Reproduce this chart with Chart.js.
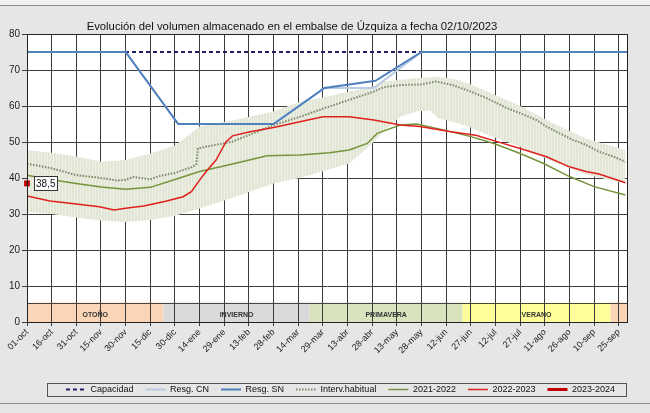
<!DOCTYPE html>
<html lang="es">
<head>
<meta charset="utf-8">
<title>Evolución del volumen almacenado - Úzquiza</title>
<script src="https://cdn.jsdelivr.net/npm/chart.js@4.4.1/dist/chart.umd.min.js"></script>
<style>
  html, body { margin: 0; padding: 0; background: #e6e6e6; }
  #contenedor { width: 650px; height: 413px; }
</style>
</head>
<body>
<div id="contenedor"><canvas id="grafico" width="650" height="413"></canvas></div>
<script>
// Datos (eje x en días desde el 1 de octubre)
const etiquetasFecha = ['01-oct','16-oct','31-oct','15-nov','30-nov','15-dic','30-dic','14-ene','29-ene','13-feb','28-feb','14-mar','29-mar','13-abr','28-abr','13-may','28-may','12-jun','27-jun','12-jul','27-jul','11-ago','26-ago','10-sep','25-sep'];

const diasCapacidad = [0, 365];
const valCapacidad = [75, 75];

const diasResgSN = [0, 60, 92, 150, 181, 212, 240, 365];
const valResgSN = [75, 75, 55, 55, 65, 67, 75, 75];
const diasResgCN = [0, 60, 92, 150, 181, 211, 240, 365];
const valResgCN = [75, 75, 55, 55, 65, 65, 75, 75];

const diasMedia = [0, 15, 30, 45, 55, 60, 65, 75, 80, 90, 100, 103, 104, 110, 125, 150, 166, 181, 196, 211, 217, 227, 240, 249, 259, 270, 280, 292, 300, 310, 316, 324, 332, 340, 348, 357, 364];
const valMedia = [44, 42.7, 40.8, 40, 39.3, 39.5, 40.3, 39.6, 40.5, 41.4, 43, 43.8, 48.2, 48.8, 50.1, 54.7, 57, 59.4, 61.7, 64, 65.2, 65.8, 66, 66.8, 65.8, 64, 62.1, 59.4, 58, 56.1, 54.3, 52.4, 50.6, 49.2, 47.3, 45.9, 44.5];

const diasBanda = [0, 15, 30, 45, 60, 75, 90, 105, 125, 150, 166, 181, 196, 211, 217, 227, 237, 245, 250, 260, 270, 280, 300, 320, 340, 364];
const bandaSup = [47.8, 47, 46, 44.5, 45, 46.8, 49, 54.3, 56, 58.5, 61.2, 62.5, 64, 65.5, 66.8, 67.3, 67.7, 68, 68.1, 67.5, 66, 64, 60, 55.2, 51, 47.8];
const bandaInf = [30.5, 30, 29, 28.2, 27.8, 28.3, 29.5, 31.5, 34.5, 38.5, 40, 42, 44, 50, 53, 57, 58.5, 58.8, 56.6, 55.5, 54, 52, 48.7, 44.5, 41, 38.5];

const dias2122 = [0, 15, 30, 45, 60, 75, 90, 105, 125, 146, 166, 184, 196, 207, 213, 227, 237, 254, 270, 284, 300, 314, 330, 345, 364];
const val2122 = [40.8, 39.5, 38.5, 37.5, 36.9, 37.4, 39.6, 41.8, 43.9, 46.2, 46.4, 47, 47.8, 49.6, 52.4, 54.7, 55, 53.3, 51.5, 49.6, 46.8, 44.1, 40.4, 37.6, 35.3];

const dias2223 = [0, 14, 30, 44, 53, 60, 71, 85, 95, 100, 105, 109, 115, 121, 125, 135, 150, 166, 180, 196, 211, 227, 239, 257, 273, 286, 300, 316, 330, 340, 348, 364];
const val2223 = [35, 33.6, 32.8, 32, 31.1, 31.6, 32.2, 33.6, 34.8, 36.2, 39.4, 41.8, 45, 50, 51.7, 52.8, 54, 55.6, 57, 57, 56.1, 54.7, 54.3, 52.9, 51.9, 50.1, 48.2, 45.9, 43.1, 41.8, 41.1, 38.7];

const dias2324 = [0];
const val2324 = [38.5];

// Estaciones (franja inferior)
const nombresEstacion = ['OTOÑO', 'INVIERNO', 'PRIMAVERA', 'VERANO', ''];
const inicioEstacion = [0, 83, 172, 265, 355];
const finEstacion = [83, 172, 265, 355, 365];
const coloresEstacion = ['#fbd5b5', '#d9d9d9', '#d7e4bd', '#ffff99', '#fbd5b5'];
const alturaEstacion = 5.4;

const tituloGrafico = 'Evolución del volumen almacenado en el embalse de Úzquiza a fecha 02/10/2023';

// Convierte dos arrays en puntos {x, y}
const puntos = (dias, vals) => dias.map((d, i) => ({ x: d, y: vals[i] }));

// Trama rayada suave para el intervalo habitual
const trama = document.createElement('canvas');
trama.width = 3; trama.height = 1;
const tctx = trama.getContext('2d');
tctx.fillStyle = '#eef0e8'; tctx.fillRect(0, 0, 3, 1);
tctx.fillStyle = '#e1e6d5'; tctx.fillRect(0, 0, 2, 1);
const patronBanda = document.getElementById('grafico').getContext('2d').createPattern(trama, 'repeat');

const fuente = "'Liberation Sans', Arial, sans-serif";

// Fondo, área blanca y franjas de estaciones
const pluginFondo = {
    id: 'fondo',
    beforeDraw(chart) {
        const { ctx, chartArea: a, scales: { x, y } } = chart;
        ctx.save();
        ctx.fillStyle = '#f0f0f0';
        ctx.fillRect(0, 0, chart.width, 5);
        ctx.fillStyle = '#e6e6e6';
        ctx.fillRect(0, 5, chart.width, chart.height - 5);
        ctx.strokeStyle = '#8c8c8c';
        ctx.lineWidth = 1;
        ctx.beginPath();
        ctx.moveTo(0, 5.5); ctx.lineTo(chart.width, 5.5);
        ctx.moveTo(0, 403.5); ctx.lineTo(chart.width, 403.5);
        ctx.stroke();
        ctx.fillStyle = '#ffffff';
        ctx.fillRect(a.left, a.top, a.right - a.left, a.bottom - a.top);

        const yTop = y.getPixelForValue(alturaEstacion);
        const yBot = y.getPixelForValue(0);
        nombresEstacion.forEach((nombre, i) => {
            const x1 = x.getPixelForValue(inicioEstacion[i]);
            const x2 = x.getPixelForValue(finEstacion[i]);
            ctx.fillStyle = coloresEstacion[i];
            ctx.fillRect(x1, yTop, x2 - x1, yBot - yTop);
            if (nombre) {
                ctx.fillStyle = '#333';
                ctx.font = `bold 7px ${fuente}`;
                ctx.textAlign = 'center';
                ctx.textBaseline = 'middle';
                ctx.fillText(nombre, (x1 + x2) / 2, (yTop + yBot) / 2 + 3);
            }
        });
        ctx.strokeStyle = '#444';
        ctx.beginPath();
        ctx.moveTo(a.left, Math.round(yTop) + 0.5);
        ctx.lineTo(a.right, Math.round(yTop) + 0.5);
        ctx.stroke();
        ctx.restore();
    }
};

// Borde del área, título, caja de leyenda y etiqueta del último valor
const pluginExtras = {
    id: 'extras',
    afterDraw(chart) {
        const { ctx, chartArea: a } = chart;
        ctx.save();
        ctx.strokeStyle = '#222';
        ctx.lineWidth = 1;
        ctx.strokeRect(Math.round(a.left) + 0.5, Math.round(a.top) + 0.5, Math.round(a.right - a.left), Math.round(a.bottom - a.top));

        // Título
        ctx.fillStyle = '#111';
        ctx.font = `11.3px ${fuente}`;
        ctx.textAlign = 'center';
        ctx.textBaseline = 'middle';
        ctx.fillText(tituloGrafico, (a.left + a.right) / 2 - 35, 27);

        // Caja de la leyenda
        const leg = chart.legend;
        if (leg && leg.legendHitBoxes.length) {
            const hb = leg.legendHitBoxes[0];
            const cy = hb.top + hb.height / 2;
            ctx.strokeStyle = '#555';
            ctx.strokeRect(a.left + 20.5, Math.round(cy - 7) + 0.5, a.right - a.left - 21, 13);
        }

        // Etiqueta del valor actual
        const meta = chart.getDatasetMeta(6);
        const el = meta.data[0];
        if (el) {
            const texto = String(val2324[0]).replace('.', ',');
            ctx.font = `10px ${fuente}`;
            const w = ctx.measureText(texto).width + 4;
            const bx = el.x + 7, by = el.y - 7;
            ctx.fillStyle = '#fff';
            ctx.fillRect(bx, by, w, 14);
            ctx.strokeStyle = '#333';
            ctx.strokeRect(Math.round(bx) + 0.5, Math.round(by) + 0.5, Math.round(w), 14);
            ctx.fillStyle = '#111';
            ctx.textAlign = 'left';
            ctx.fillText(texto, bx + 2, by + 7.5);
        }
        ctx.restore();
    }
};

// Leyenda con el trazo (discontinuo o no) de cada serie
function etiquetasLeyenda(chart) {
    const base = Chart.defaults.plugins.legend.labels.generateLabels(chart);
    return base.map(item => {
        const ds = chart.data.datasets[item.datasetIndex];
        item.lineDash = ds.borderDash || [];
        item.lineWidth = ds.borderWidth;
        item.strokeStyle = ds.borderColor;
        return item;
    });
}

const ctx = document.getElementById('grafico').getContext('2d');
new Chart(ctx, {
    type: 'line',
    data: {
        datasets: [
            { label: 'Capacidad', data: puntos(diasCapacidad, valCapacidad), borderColor: '#1f1f66', borderWidth: 2, borderDash: [4, 3], order: 5 },
            { label: 'Resg. CN', data: puntos(diasResgCN, valResgCN), borderColor: '#b8cce4', borderWidth: 2, order: 4 },
            { label: 'Resg. SN', data: puntos(diasResgSN, valResgSN), borderColor: '#4f81bd', borderWidth: 2, order: 3 },
            { label: 'Interv.habitual', data: puntos(diasMedia, valMedia), borderColor: '#7d876a', borderWidth: 2, borderDash: [1.5, 1.5], order: 6 },
            { label: '2021-2022', data: puntos(dias2122, val2122), borderColor: '#77933c', borderWidth: 1.5, order: 2 },
            { label: '2022-2023', data: puntos(dias2223, val2223), borderColor: '#e0201c', borderWidth: 1.5, order: 1 },
            { label: '2023-2024', data: puntos(dias2324, val2324), borderColor: '#c00000', backgroundColor: '#e02020', borderWidth: 3, pointRadius: 2, pointStyle: 'rect', clip: 6, order: 0 },
            { label: '', data: puntos(diasBanda, bandaSup), borderWidth: 0, backgroundColor: patronBanda, fill: '+1', order: 9 },
            { label: '', data: puntos(diasBanda, bandaInf), borderWidth: 0, fill: false, order: 10 }
        ]
    },
    options: {
        responsive: false,
        animation: false,
        elements: { point: { radius: 0 }, line: { tension: 0 } },
        layout: { padding: { top: 34, right: 23, bottom: 9, left: 0 } },
        scales: {
            x: {
                type: 'linear',
                min: 0,
                max: 365,
                afterFit: s => { s.height = 51; },
                grid: { color: '#3c3c3c', lineWidth: 1, tickLength: 4 },
                border: { color: '#222' },
                ticks: {
                    stepSize: 15,
                    includeBounds: false,
                    autoSkip: false,
                    minRotation: 45,
                    maxRotation: 45,
                    padding: 1,
                    color: '#222',
                    font: { size: 9, family: fuente },
                    callback: v => etiquetasFecha[Math.round(v / 15)] ?? ''
                }
            },
            y: {
                min: 0,
                max: 80,
                afterFit: s => { s.width = 27; },
                grid: { color: '#3c3c3c', lineWidth: 1, tickLength: 5 },
                border: { color: '#222' },
                ticks: { stepSize: 10, padding: 2, color: '#222', font: { size: 10, family: fuente } }
            }
        },
        plugins: {
            title: { display: false },
            tooltip: { enabled: false },
            legend: {
                position: 'bottom',
                align: 'end',
                labels: {
                    generateLabels: etiquetasLeyenda,
                    filter: item => item.text !== '',
                    sort: (a, b) => a.datasetIndex - b.datasetIndex,
                    usePointStyle: true,
                    pointStyle: 'line',
                    pointStyleWidth: 20,
                    padding: 12,
                    color: '#111',
                    font: { size: 9, family: fuente }
                }
            }
        }
    },
    plugins: [pluginFondo, pluginExtras]
});
</script>
</body>
</html>
